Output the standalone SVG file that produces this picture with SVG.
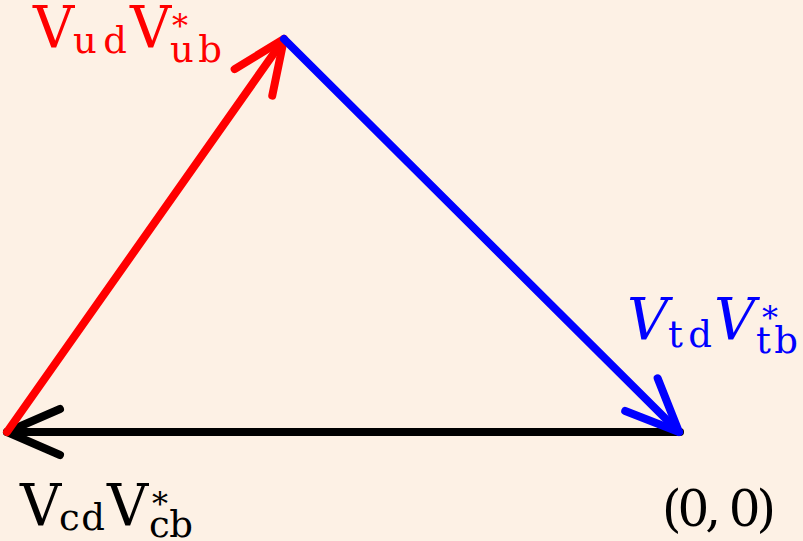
<svg xmlns="http://www.w3.org/2000/svg" width="803" height="541" viewBox="0 0 803 541">
<style>
  .ln { fill: none; stroke-width: 8; stroke-linecap: round; stroke-linejoin: round; }
  .lbl { font-family: "DejaVu Serif", "Liberation Serif", serif; font-size: 57px; }
  .sub { font-size: 37px; }
  .ast { font-size: 32px; }
  .red { fill: #ff0000; }
  .blue { fill: #0000ff; }
  .blk { fill: #000000; }
  .it { font-style: italic; }
</style>
<defs>
  <marker id="ahR" markerUnits="userSpaceOnUse" orient="auto" markerWidth="120" markerHeight="120" overflow="visible">
    <path d="M -53 -23 L 0 0 L -53 23" fill="none" stroke="#ff0000" stroke-width="8" stroke-linecap="round" stroke-linejoin="round"/>
  </marker>
  <marker id="ahB" markerUnits="userSpaceOnUse" orient="auto" markerWidth="120" markerHeight="120" overflow="visible">
    <path d="M -53 -23 L 0 0 L -53 23" fill="none" stroke="#0000ff" stroke-width="8" stroke-linecap="round" stroke-linejoin="round"/>
  </marker>
  <marker id="ahK" markerUnits="userSpaceOnUse" orient="auto" markerWidth="120" markerHeight="120" overflow="visible">
    <path d="M -53 -23 L 0 0 L -53 23" fill="none" stroke="#000000" stroke-width="8" stroke-linecap="round" stroke-linejoin="round"/>
  </marker>
</defs>
<rect width="803" height="541" fill="#fdf1e5"/>
<g id="connectors">
  <path class="ln" d="M 680 432 L 7 432" stroke="#000000" marker-end="url(#ahK)"/>
  <path class="ln" d="M 7 432 L 284 39" stroke="#ff0000" marker-end="url(#ahR)"/>
  <path class="ln" d="M 284 39 L 679 432" stroke="#0000ff" marker-end="url(#ahB)"/>
</g>
<g id="label-ud">
  <text class="lbl red"><tspan x="33" y="47">V</tspan><tspan class="sub" x="73" y="53" textLength="54" lengthAdjust="spacing">ud</tspan><tspan x="130" y="47">V</tspan><tspan class="ast" x="172" y="37">*</tspan><tspan class="sub" x="170" y="62" textLength="52" lengthAdjust="spacing">ub</tspan></text>
</g>
<g id="label-td">
  <text class="lbl blue"><tspan class="it" x="627" y="339">V</tspan><tspan class="sub" x="668" y="347" textLength="44" lengthAdjust="spacing">td</tspan><tspan class="it" x="714" y="339">V</tspan><tspan class="ast" x="762" y="329">*</tspan><tspan class="sub" x="756" y="353" textLength="42" lengthAdjust="spacing">tb</tspan></text>
</g>
<g id="label-cd">
  <text class="lbl blk"><tspan x="20" y="525">V</tspan><tspan class="sub" x="59" y="530" textLength="46" lengthAdjust="spacing">cd</tspan><tspan x="107" y="525">V</tspan><tspan class="ast" x="152" y="515">*</tspan><tspan class="sub" x="149" y="537" textLength="44" lengthAdjust="spacing">cb</tspan></text>
</g>
<g id="label-origin">
  <text class="lbl blk" x="662" y="526" style="font-size:50px" textLength="114" lengthAdjust="spacing">(0, 0)</text>
</g>
</svg>
